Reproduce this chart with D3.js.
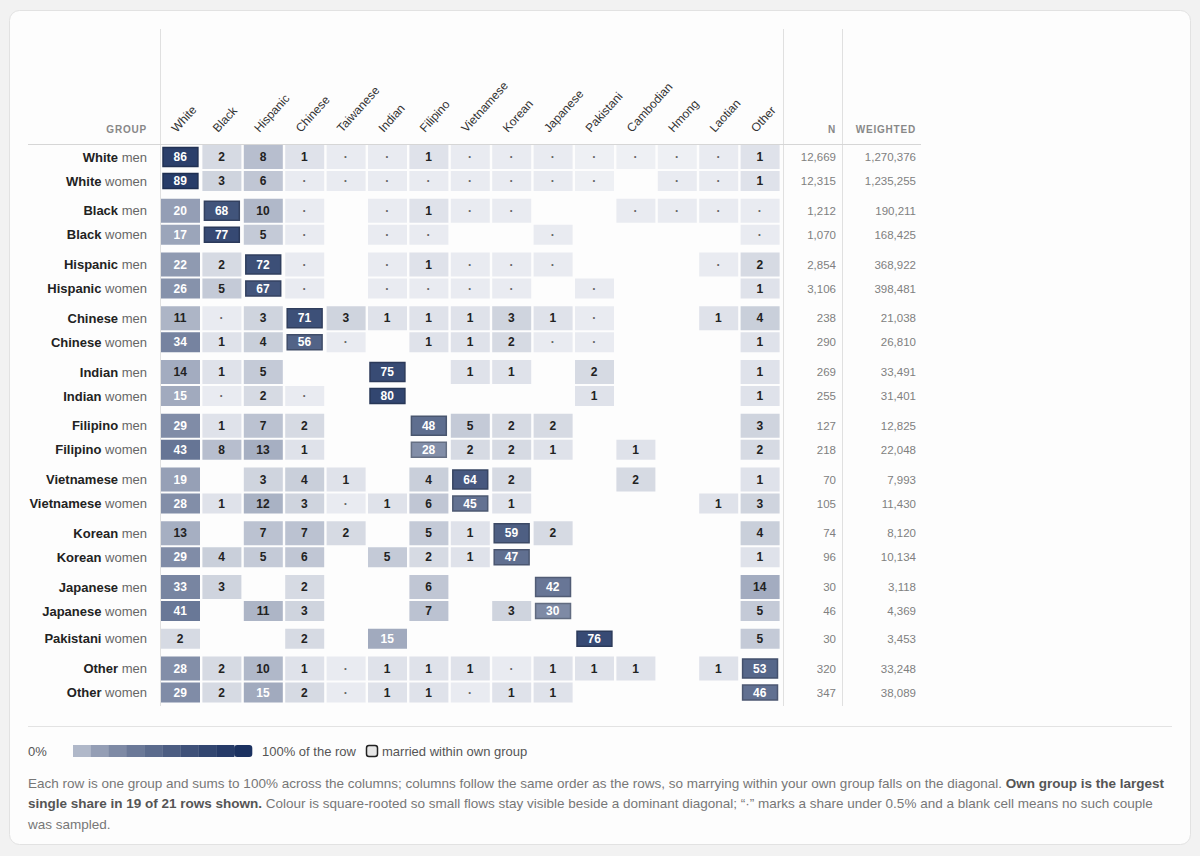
<!DOCTYPE html>
<html><head><meta charset="utf-8">
<script src="https://cdn.jsdelivr.net/npm/d3@7"></script>
<style>
html,body{margin:0;padding:0;background:#f2f2f2;}
svg{display:block;font-family:"Liberation Sans",Arial,Helvetica,sans-serif;}
</style></head><body>
<svg id="chart" width="1200" height="856"></svg>
<script>
// ---------- data ----------
const columns = ["White","Black","Hispanic","Chinese","Taiwanese","Indian","Filipino","Vietnamese","Korean","Japanese","Pakistani","Cambodian","Hmong","Laotian","Other"];
const rowGroups = ["White","White","Black","Black","Hispanic","Hispanic","Chinese","Chinese","Indian","Indian","Filipino","Filipino","Vietnamese","Vietnamese","Korean","Korean","Japanese","Japanese","Pakistani","Other","Other"];
const rowSexes  = ["men","women","men","women","men","women","men","women","men","women","men","women","men","women","men","women","men","women","women","men","women"];
// 0.3 / 0.1 = a share under 0.5% (shown as "·"); null = no such couple sampled
const D = 0.3, d = 0.1, _ = null;
const shares = [
  [86, 2, 8, 1, D, D, 1, D, D, D, d, d, d, D, 1],   // White men
  [89, 3, 6, D, D, D, D, D, D, D, d, _, D, D, 1],   // White women
  [20,68,10, D, _, D, 1, D, D, _, _, D, D, D, D],   // Black men
  [17,77, 5, D, _, D, D, _, _, D, _, _, _, _, D],   // Black women
  [22, 2,72, D, _, D, 1, D, D, D, _, _, _, D, 2],   // Hispanic men
  [26, 5,67, D, _, D, D, D, D, _, D, _, _, _, 1],   // Hispanic women
  [11, D, 3,71, 3, 1, 1, 1, 3, 1, D, _, _, 1, 4],   // Chinese men
  [34, 1, 4,56, D, _, 1, 1, 2, D, D, _, _, _, 1],   // Chinese women
  [14, 1, 5, _, _,75, _, 1, 1, _, 2, _, _, _, 1],   // Indian men
  [15, D, 2, D, _,80, _, _, _, _, 1, _, _, _, 1],   // Indian women
  [29, 1, 7, 2, _, _,48, 5, 2, 2, _, _, _, _, 3],   // Filipino men
  [43, 8,13, 1, _, _,28, 2, 2, 1, _, 1, _, _, 2],   // Filipino women
  [19, _, 3, 4, 1, _, 4,64, 2, _, _, 2, _, _, 1],   // Vietnamese men
  [28, 1,12, 3, D, 1, 6,45, 1, _, _, _, _, 1, 3],   // Vietnamese women
  [13, _, 7, 7, 2, _, 5, 1,59, 2, _, _, _, _, 4],   // Korean men
  [29, 4, 5, 6, _, 5, 2, 1,47, _, _, _, _, _, 1],   // Korean women
  [33, 3, _, 2, _, _, 6, _, _,42, _, _, _, _,14],   // Japanese men
  [41, _,11, 3, _, _, 7, _, 3,30, _, _, _, _, 5],   // Japanese women
  [ 2, _, _, 2, _,15, _, _, _, _,76, _, _, _, 5],   // Pakistani women
  [28, 2,10, 1, D, 1, 1, 1, D, 1, 1, 1, _, 1,53],   // Other men
  [29, 2,15, 2, D, 1, 1, D, 1, 1, _, _, _, _,46]    // Other women
];
const sampleN   = [12669,12315,1212,1070,2854,3106,238,290,269,255,127,218,70,105,74,96,30,46,30,320,347];
const weightedN = [1270376,1235255,190211,168425,368922,398481,21038,26810,33491,31401,12825,22048,7993,11430,8120,10134,3118,4369,3453,33248,38089];
const legendSteps = [10,20,30,40,50,60,70,80,90,100];

// ---------- layout ----------
const svg = d3.select("#chart");
svg.append("rect").attr("x",9.5).attr("y",10.5).attr("width",1181).attr("height",834)
  .attr("rx",10).attr("fill","#fdfdfd").attr("stroke","#e2e2e2");

const x = d3.scaleBand().domain(columns).range([160, 781]);
const bw = x.bandwidth();

// row tops: men rows are taller, groups separated by a gap
const rowKeys = rowGroups.map((g,i)=>g+"|"+rowSexes[i]);
const rowTops = [], rowHeights = [];
{
  let t = 145;
  rowGroups.forEach((g,i)=>{
    if (i>0 && g!==rowGroups[i-1]) t += 5.75;
    const h = rowSexes[i]==="men" ? 24 : 20;
    rowTops.push(t); rowHeights.push(h);
    t += h + 2;
  });
}
const yTop = d3.scaleOrdinal().domain(rowKeys).range(rowTops);
const yH = d3.scaleOrdinal().domain(rowKeys).range(rowHeights);

const color = d3.scaleSequentialSqrt(d3.interpolateRgb("#f5f6f9","#1b3160")).domain([0,100]);

// grid lines
const lineC = "#e0e0e0";
svg.append("line").attr("x1",160.5).attr("x2",160.5).attr("y1",29).attr("y2",706).attr("stroke",lineC);
svg.append("line").attr("x1",783.5).attr("x2",783.5).attr("y1",29).attr("y2",706).attr("stroke",lineC);
svg.append("line").attr("x1",842.5).attr("x2",842.5).attr("y1",29).attr("y2",706).attr("stroke",lineC);
svg.append("line").attr("x1",28).attr("x2",921).attr("y1",144.5).attr("y2",144.5).attr("stroke","#d6d6d6");
svg.append("line").attr("x1",28).attr("x2",1172).attr("y1",726.5).attr("y2",726.5).attr("stroke","#e3e3e3");

// header
const hdr = svg.append("g").attr("font-size",10).attr("font-weight","bold").attr("fill","#888").attr("letter-spacing",0.8);
hdr.append("text").attr("x",147).attr("y",133).attr("text-anchor","end").text("GROUP");
hdr.append("text").attr("x",836).attr("y",133).attr("text-anchor","end").text("N");
hdr.append("text").attr("x",916).attr("y",133).attr("text-anchor","end").text("WEIGHTED");

svg.append("g").selectAll("text").data(columns).join("text")
  .attr("transform",c=>`translate(${x(c)+bw/2-4},133) rotate(-48)`)
  .attr("font-size",12).attr("fill","#333").text(c=>c);

// rows
const rows = svg.append("g").selectAll("g").data(shares).join("g");
rows.each(function(vals,i){
  const g = d3.select(this);
  const key = rowKeys[i];
  const top = yTop(key), h = yH(key), cy = top + h/2;
  const own = columns.indexOf(rowGroups[i]);
  // label
  const t = g.append("text").attr("x",147).attr("y",cy+4.5).attr("text-anchor","end").attr("font-size",13);
  t.append("tspan").attr("font-weight","bold").attr("fill","#222").text(rowGroups[i]);
  t.append("tspan").attr("fill","#666").text(" "+rowSexes[i]);
  // cells
  vals.forEach((v,j)=>{
    if (v===null) return;
    const c = columns[j];
    const fill = color(v);
    if (j===own){
      g.append("rect").attr("x",x(c)+3).attr("y",top+2.5).attr("width",bw-6.5).attr("height",h-5)
        .attr("fill",fill).attr("stroke",d3.color(fill).darker(0.7)).attr("stroke-width",1.5);
    } else {
      g.append("rect").attr("x",x(c)+1).attr("y",top).attr("width",bw-2.4).attr("height",h).attr("fill",fill);
    }
    const small = v < 0.5;
    g.append("text").attr("x",x(c)+bw/2-0.5).attr("y",cy+4.2)
      .attr("text-anchor","middle")
      .attr("font-size", 12)
      .attr("font-weight", "bold")
      .attr("fill", small ? "#666" : (v>=15 ? "#fff" : "#222"))
      .text(small ? "·" : Math.round(v));
  });
  g.append("text").attr("x",836).attr("y",cy+4).attr("text-anchor","end").attr("font-size",11.5).attr("fill","#808080").text(d3.format(",")(sampleN[i]));
  g.append("text").attr("x",916).attr("y",cy+4).attr("text-anchor","end").attr("font-size",11.5).attr("fill","#808080").text(d3.format(",")(weightedN[i]));
});

// legend
const lg = svg.append("g").attr("font-size",13).attr("fill","#555");
lg.append("text").attr("x",28).attr("y",755.5).text("0%");
const lx = d3.scaleBand().domain(legendSteps).range([73,252]);
lg.selectAll("rect.step").data(legendSteps).join("rect").attr("class","step")
  .attr("x",v=>lx(v)).attr("y",745).attr("width",lx.bandwidth()+0.3).attr("height",12)
  .attr("rx",(v,i)=>i===legendSteps.length-1?3:0)
  .attr("fill",v=>color(v));
lg.append("text").attr("x",262).attr("y",755.5).text("100% of the row");
lg.append("rect").attr("x",366.5).attr("y",745.5).attr("width",11).attr("height",11).attr("rx",2.5)
  .attr("fill","#e6e6e6").attr("stroke","#222").attr("stroke-width",1.5);
lg.append("text").attr("x",382).attr("y",755.5).text("married within own group");

// footnote
const fn = svg.append("text").attr("font-size",13.5).attr("fill","#777");
const l1 = fn.append("tspan").attr("x",28).attr("y",788);
l1.append("tspan").text("Each row is one group and sums to 100% across the columns; columns follow the same order as the rows, so marrying within your own group falls on the diagonal. ");
l1.append("tspan").attr("font-weight","bold").attr("fill","#555").text("Own group is the largest");
const l2 = fn.append("tspan").attr("x",28).attr("y",808);
l2.append("tspan").attr("font-weight","bold").attr("fill","#555").text("single share in 19 of 21 rows shown.");
l2.append("tspan").text(" Colour is square-rooted so small flows stay visible beside a dominant diagonal; \u201C\u00B7\u201D marks a share under 0.5% and a blank cell means no such couple");
fn.append("tspan").attr("x",28).attr("y",829).text("was sampled.");
</script>
</body></html>
